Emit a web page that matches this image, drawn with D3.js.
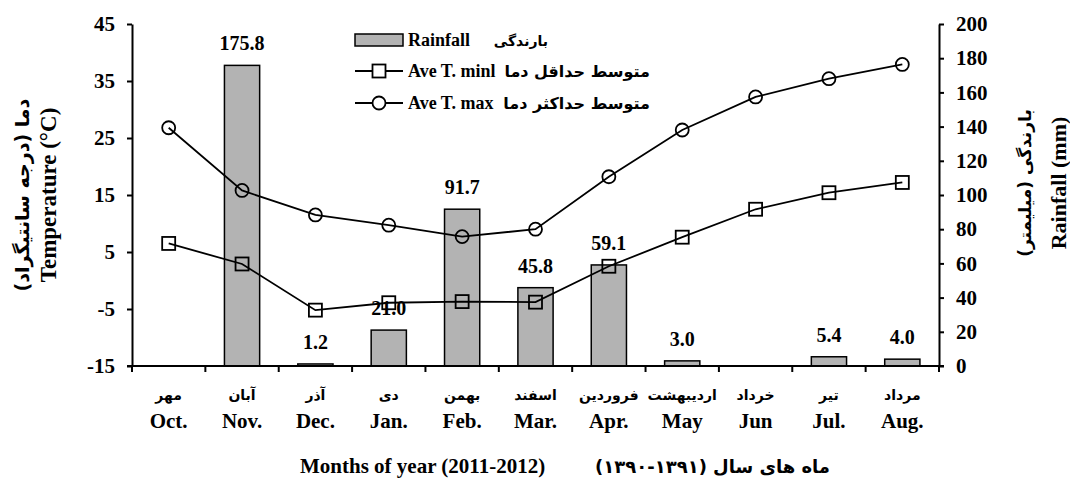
<!DOCTYPE html>
<html>
<head>
<meta charset="utf-8">
<script src="https://cdn.jsdelivr.net/npm/d3@7"></script>
<style>
    body { margin: 0; background: #fff; }
    .en { font-family: "Liberation Serif", "Times New Roman", serif; font-weight: bold; }
    .fa { font-family: "DejaVu Sans", sans-serif; font-weight: bold; }
    .axis path, .axis line { stroke: #000; stroke-width: 2; }
    .axis text { font-family: "Liberation Serif", serif; font-weight: bold; font-size: 21px; fill: #000; }
</style>
</head>
<body>
<svg id="chart" width="1070" height="489"></svg>
<script>
// data
var monthsEn = ["Oct.", "Nov.", "Dec.", "Jan.", "Feb.", "Mar.", "Apr.", "May", "Jun", "Jul.", "Aug."]
var monthsFa = ["مهر", "آبان", "آذر", "دی", "بهمن", "اسفند", "فروردین", "اردیبهشت", "خرداد", "تیر", "مرداد"]
var rainfall = [0, 175.8, 1.2, 21.0, 91.7, 45.8, 59.1, 3.0, 0, 5.4, 4.0]
var tMin = [6.5, 2.9, -5.2, -3.9, -3.7, -3.8, 2.5, 7.6, 12.5, 15.4, 17.2]
var tMax = [26.8, 15.8, 11.5, 9.7, 7.7, 9.0, 18.2, 26.4, 32.2, 35.4, 37.9]
var tempTicks = [-15, -5, 5, 15, 25, 35, 45]
var rainTicks = [0, 20, 40, 60, 80, 100, 120, 140, 160, 180, 200]
var barLabels = ["", "175.8", "1.2", "21.0", "91.7", "45.8", "59.1", "3.0", "", "5.4", "4.0"]

var margin = { top: 24, left: 132 },
    width = 807,
    height = 342

var svg = d3.select("#chart")
var g = svg.append("g").attr("transform", "translate(" + margin.left + "," + margin.top + ")")

// scales
var x = d3.scaleBand().domain(d3.range(monthsEn.length)).range([0, width])
var yT = d3.scaleLinear().domain([-15, 45]).range([height, 0])
var yR = d3.scaleLinear().domain([0, 200]).range([height, 0])

// bars
g.selectAll(".bar")
    .data(rainfall)
    .enter().append("rect")
    .attr("class", "bar")
    .attr("x", function(d, i) { return x(i) + x.bandwidth() * 0.26 })
    .attr("width", x.bandwidth() * 0.48)
    .attr("y", function(d) { return yR(d) })
    .attr("height", function(d) { return height - yR(d) })
    .style("fill", "#b3b3b3")
    .style("stroke", "#000")
    .style("stroke-width", 1.5)

// bar labels
g.selectAll(".blabel")
    .data(rainfall)
    .enter().append("text")
    .attr("class", "en")
    .attr("x", function(d, i) { return x(i) + x.bandwidth() / 2 })
    .attr("y", function(d) { return yR(d) - 15 })
    .attr("text-anchor", "middle")
    .style("font-size", "20px")
    .text(function(d, i) { return barLabels[i] })

// x axis (ticks on category boundaries)
var xAxis = g.append("g")
    .attr("class", "axis")
    .attr("transform", "translate(0," + height + ")")
xAxis.append("line").attr("x1", -5).attr("x2", width + 5)
xAxis.selectAll(".xt")
    .data(d3.range(monthsEn.length + 1))
    .enter().append("line")
    .attr("x1", function(d) { return d * x.step() })
    .attr("x2", function(d) { return d * x.step() })
    .attr("y1", 0).attr("y2", 6)

// left axis
g.append("g")
    .attr("class", "axis")
    .call(d3.axisLeft(yT).tickValues(tempTicks).tickFormat(function(d) { return String(d) })
        .tickSize(5).tickPadding(12).tickSizeOuter(0))

// right axis
g.append("g")
    .attr("class", "axis")
    .attr("transform", "translate(" + width + ",0)")
    .call(d3.axisRight(yR).tickValues(rainTicks).tickFormat(function(d) { return String(d) })
        .tickSize(5).tickPadding(12).tickSizeOuter(0))

// lines
var lineT = d3.line()
    .x(function(d, i) { return x(i) + x.bandwidth() / 2 })
    .y(function(d) { return yT(d) })

g.append("path").datum(tMin).attr("d", lineT)
    .style("fill", "none").style("stroke", "#000").style("stroke-width", 1.8)
g.append("path").datum(tMax).attr("d", lineT)
    .style("fill", "none").style("stroke", "#000").style("stroke-width", 1.8)

// markers
g.selectAll(".sq")
    .data(tMin)
    .enter().append("rect")
    .attr("x", function(d, i) { return x(i) + x.bandwidth() / 2 - 6.5 })
    .attr("y", function(d) { return yT(d) - 6.5 })
    .attr("width", 13).attr("height", 13)
    .style("fill", "none").style("stroke", "#000").style("stroke-width", 1.8)

g.selectAll(".ci")
    .data(tMax)
    .enter().append("circle")
    .attr("cx", function(d, i) { return x(i) + x.bandwidth() / 2 })
    .attr("cy", function(d) { return yT(d) })
    .attr("r", 6.5)
    .style("fill", "none").style("stroke", "#000").style("stroke-width", 1.8)

// month labels
g.selectAll(".mfa")
    .data(monthsFa)
    .enter().append("text")
    .attr("class", "fa")
    .attr("x", function(d, i) { return x(i) + x.bandwidth() / 2 })
    .attr("y", height + 34)
    .attr("text-anchor", "middle")
    .style("font-size", "14px")
    .text(function(d) { return d })

g.selectAll(".men")
    .data(monthsEn)
    .enter().append("text")
    .attr("class", "en")
    .attr("x", function(d, i) { return x(i) + x.bandwidth() / 2 })
    .attr("y", height + 62)
    .attr("text-anchor", "middle")
    .style("font-size", "21px")
    .text(function(d) { return d })

// x title
svg.append("text").attr("class", "en")
    .attr("x", 300).attr("y", 473)
    .style("font-size", "21px")
    .text("Months of year (2011-2012)")
svg.append("text").attr("class", "fa")
    .attr("x", 830).attr("y", 473)
    .attr("text-anchor", "start")
    .attr("direction", "rtl")
    .style("font-size", "18px")
    .text("ماه های سال (۱۳۹۱-۱۳۹۰)")

// y titles
svg.append("text").attr("class", "fa")
    .attr("transform", "translate(29,195) rotate(-90)")
    .attr("text-anchor", "middle")
    .attr("direction", "rtl")
    .style("font-size", "19px")
    .text("دما (درجه سانتیگراد)")
svg.append("text").attr("class", "en")
    .attr("transform", "translate(56,195) rotate(-90)")
    .attr("text-anchor", "middle")
    .style("font-size", "23px")
    .text("Temperature  (°C)")
svg.append("text").attr("class", "fa")
    .attr("transform", "translate(1031,183) rotate(-90)")
    .attr("text-anchor", "middle")
    .attr("direction", "rtl")
    .style("font-size", "17px")
    .text("بارندگی (میلیمتر)")
svg.append("text").attr("class", "en")
    .attr("transform", "translate(1066,183) rotate(-90)")
    .attr("text-anchor", "middle")
    .style("font-size", "22px")
    .text("Rainfall (mm)")

// Legend
var key = svg.append("g").attr("class", "legend")
var rows = [40, 71, 103]

key.append("rect")
    .attr("x", 355).attr("y", rows[0] - 6).attr("width", 48).attr("height", 12)
    .style("fill", "#b3b3b3").style("stroke", "#000").style("stroke-width", 1.5)
key.append("line").attr("x1", 355).attr("x2", 403).attr("y1", rows[1]).attr("y2", rows[1])
    .style("stroke", "#000").style("stroke-width", 1.8)
key.append("rect").attr("x", 372.5).attr("y", rows[1] - 6.5).attr("width", 13).attr("height", 13)
    .style("fill", "#fff").style("stroke", "#000").style("stroke-width", 1.8)
key.append("line").attr("x1", 355).attr("x2", 403).attr("y1", rows[2]).attr("y2", rows[2])
    .style("stroke", "#000").style("stroke-width", 1.8)
key.append("circle").attr("cx", 379).attr("cy", rows[2]).attr("r", 6.5)
    .style("fill", "#fff").style("stroke", "#000").style("stroke-width", 1.8)

var enNames = ["Rainfall", "Ave T. minl", "Ave T. max"]
var faNames = ["بارندگی", "متوسط حداقل دما", "متوسط حداکثر دما"]
var faEnd = [548, 650, 650]
var faSize = ["14px", "16px", "16px"]
enNames.forEach(function(t, i) {
    key.append("text").attr("class", "en")
        .attr("x", 408).attr("y", rows[i] + 6)
        .style("font-size", "18px")
        .text(t)
    key.append("text").attr("class", "fa")
        .attr("x", faEnd[i]).attr("y", rows[i] + 6)
        .attr("text-anchor", "end")
        .style("font-size", faSize[i])
        .text(faNames[i])
})
</script>
</body>
</html>
